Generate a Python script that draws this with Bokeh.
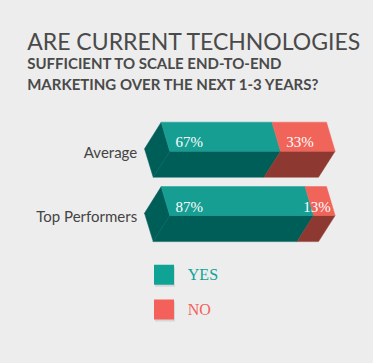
from bokeh.plotting import figure
from bokeh.models import Range1d, Label
from bokeh.core.properties import value
from bokeh.embed import file_html
from bokeh.resources import INLINE

# ---- data ----
categories = ["Average", "Top Performers"]
yes = [67, 87]
no = [33, 13]
series = ["YES", "NO"]
top_colors = ["#179e93", "#f0645a"]
side_colors = ["#005e59", "#8d3830"]
legend_colors = ["#0fa396", "#f4615a"]

title = "ARE CURRENT TECHNOLOGIES"
subtitle = ["SUFFICIENT TO SCALE END-TO-END", "MARKETING OVER THE NEXT 1-3 YEARS?"]

BG = "#ededed"
W, H = 373, 363
OFF = 0         # page offset of the figure
PX = 1.653      # pixels per percent
PY = 64.4       # pixels per category step
X0 = 160.7      # page x of 0%
Y0 = 121.7      # page y of first bar top

def tx(px):
    return (px - X0) / PX

def ty(py):
    return (py - Y0) / PY

p = figure(width=W, height=H, output_backend="svg", toolbar_location=None,
           x_range=Range1d(tx(OFF), tx(OFF + W)), y_range=Range1d(ty(OFF + H), ty(OFF)),
           x_axis_location=None, y_axis_location=None, min_border=0)
p.grid.visible = False
p.outline_line_color = None
p.background_fill_color = BG
p.border_fill_color = BG

# 3D bar geometry (in data units)
s1, h1 = 5.2, 0.45     # top face slant / thickness
s2, h2 = -4.84, 0.404  # lower face slant / thickness
capx, caph = -10.1, 0.413

top_xs, top_ys, top_c = [], [], []
side_xs, side_ys, side_c = [], [], []
for i, cat in enumerate(categories):
    vals = [yes[i], no[i]]
    a = 0
    for k, v in enumerate(vals):
        b = a + v
        top_xs.append([a, b, b + s1, a + s1]); top_ys.append([i, i, i + h1, i + h1]); top_c.append(top_colors[k])
        side_xs.append([a + s1, b + s1, b + s2, a + s2]); side_ys.append([i + h1, i + h1, i + h1 + h2, i + h1 + h2]); side_c.append(side_colors[k])
        a = b
    # left cap
    side_xs.append([0, s1, s2, capx]); side_ys.append([i, i + h1, i + h1 + h2, i + caph]); side_c.append(side_colors[0])

p.patches(xs=side_xs, ys=side_ys, fill_color=side_c, line_color=side_c, line_width=0.5)
p.patches(xs=top_xs, ys=top_ys, fill_color=top_c, line_color=top_c, line_width=0.5)

# percent labels
lx, ly, lt, la = [], [], [], []
for i in range(len(categories)):
    vals = [yes[i], no[i]]
    a = 0
    for v in vals:
        b = a + v
        if v * PX > 45:
            lx.append(a + s1 / 2 + 6); la.append("left")
        else:
            lx.append(b + s1 / 2); la.append("right")
        ly.append(i + 0.31); lt.append(f"{v}%")
        a = b
p.text(x=lx, y=ly, text=lt, text_align=la, text_baseline="alphabetic",
       text_color="white", text_font=value("Liberation Serif"), text_font_size="15px")

# category labels
p.text(x=[tx(136.7)] * len(categories), y=[i + 0.455 for i in range(len(categories))],
       text=categories, text_align="right", text_baseline="alphabetic",
       text_color="#444444", text_font=value("Lato"), text_font_size="15px")

# title and subtitle
p.add_layout(Label(x=tx(26.7), y=ty(40), text=title, text_baseline="alphabetic",
                   text_color="#4a4a4a", text_font="Lato", text_font_size="23px"))
for j, line in enumerate(subtitle):
    p.add_layout(Label(x=tx(26.7), y=ty(62.7 + 20.7 * j), text=line, text_baseline="alphabetic",
                       text_color="#4a4a4a", text_font="Lato", text_font_style="bold",
                       text_font_size="15px"))

# legend
leg_y = [ty(274.3), ty(309)]
p.scatter(x=[tx(164.5)] * 2, y=[ty(276.3), ty(311)], marker="square", size=20,
          fill_color="#d6d6d6", line_color=None)
p.scatter(x=[tx(163.5)] * 2, y=leg_y, marker="square", size=20,
          fill_color=legend_colors, line_color=None)
p.text(x=[tx(187.3)] * 2, y=leg_y, text=series, text_baseline="middle",
       text_color=legend_colors, text_font=value("Liberation Serif"), text_font_size="16px")

html = file_html(p, INLINE)
html = html.replace("</head>", "<style>html,body{background:#ededed;margin:0;padding:0;overflow:hidden;}</style></head>", 1)
open("out.html", "w").write(html)
